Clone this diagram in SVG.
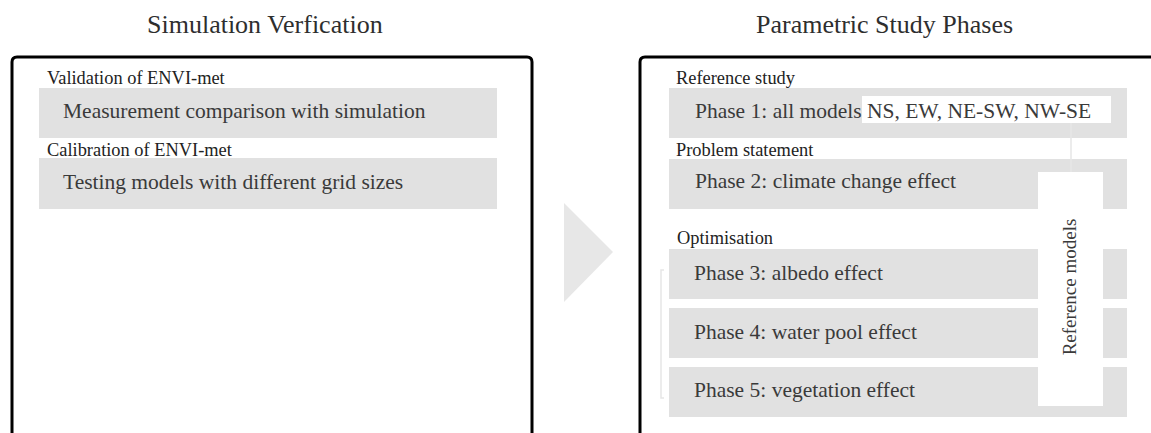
<svg xmlns="http://www.w3.org/2000/svg" width="1151" height="433" viewBox="0 0 1151 433">
<style>
text{font-family:"Liberation Serif","Times New Roman",serif;}
.title{font-size:26px;fill:#2e2e2e;}
.lbl{font-size:18.4px;fill:#222;}
.main{font-size:21.5px;fill:#3a3a3a;}
.grey{fill:#e1e1e1;}
.white{fill:#fff;}
.frame{fill:none;stroke:#000;stroke-width:3;}
.conn{fill:none;stroke:#e6e6e6;stroke-width:1.5;}
</style>
<rect width="1151" height="433" fill="#fff"/>
<g id="title-left"><text class="title" x="147" y="33">Simulation Verfication</text></g>
<g id="title-right"><text class="title" x="756" y="33">Parametric Study Phases</text></g>
<g id="panel-left"><path class="frame" d="M12 445 V62 Q12 57 17 57 H527 Q532 57 532 62 V445"/></g>
<g id="panel-right"><path class="frame" d="M640 445 V62 Q640 57 645 57 H1170"/></g>
<g id="arrow"><polygon points="564,203 613,252 564,302" fill="#e7e7e7"/></g>
<g id="validation">
<text class="lbl" x="47" y="84">Validation of ENVI-met</text>
<rect class="grey" x="39" y="88" width="458" height="50"/>
<text class="main" x="63" y="118">Measurement comparison with simulation</text>
</g>
<g id="calibration">
<text class="lbl" x="47" y="156">Calibration of ENVI-met</text>
<rect class="grey" x="39" y="158" width="458" height="51"/>
<text class="main" x="63" y="189">Testing models with different grid sizes</text>
</g>
<g id="phase1">
<text class="lbl" x="676" y="84">Reference study</text>
<rect class="grey" x="669" y="88" width="458" height="50"/>
<text class="main" x="695" y="118">Phase 1: all models</text>
</g>
<g id="orientations">
<rect class="white" x="862" y="96" width="249" height="27"/>
<text class="main" x="867" y="118">NS, EW, NE-SW, NW-SE</text>
</g>
<g id="phase2">
<text class="lbl" x="676" y="156">Problem statement</text>
<rect class="grey" x="669" y="159" width="458" height="50"/>
<text class="main" x="695" y="188">Phase 2: climate change effect</text>
</g>
<g id="phase3">
<text class="lbl" x="677" y="244">Optimisation</text>
<rect class="grey" x="669" y="249" width="458" height="50"/>
<text class="main" x="694" y="280">Phase 3: albedo effect</text>
</g>
<g id="phase4">
<rect class="grey" x="669" y="308" width="458" height="50"/>
<text class="main" x="694" y="339">Phase 4: water pool effect</text>
</g>
<g id="phase5">
<rect class="grey" x="669" y="367" width="458" height="50"/>
<text class="main" x="694" y="397">Phase 5: vegetation effect</text>
</g>
<g id="connectors">
<path class="conn" d="M1071 123 V172"/>
<path class="conn" d="M664 270 H661 V398 H664"/>
</g>
<g id="reference-models">
<rect class="white" x="1038" y="172" width="65" height="234"/>
<text class="main" style="font-size:19px" transform="translate(1076,287) rotate(-90)" text-anchor="middle">Reference models</text>
</g>
</svg>
